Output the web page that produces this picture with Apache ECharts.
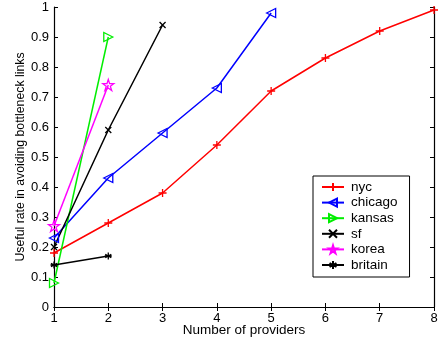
<!DOCTYPE html>
<html>
<head>
<meta charset="utf-8">
<script src="https://cdn.jsdelivr.net/npm/echarts@6/dist/echarts.min.js"></script>
<style>
html,body{margin:0;padding:0;background:#fff;}
#main{width:438px;height:341px;}
</style>
</head>
<body>
<div id="main"></div>
<script>
// data
var providers = [1, 2, 3, 4, 5, 6, 7, 8];
var nyc = [0.18, 0.28, 0.38, 0.54, 0.72, 0.83, 0.92, 0.99];
var chicago = [0.23, 0.43, 0.58, 0.73, 0.98];
var kansas = [0.08, 0.90];
var sf = [0.20, 0.59, 0.94];
var korea = [0.27, 0.74];
var britain = [0.14, 0.17];
var seriesNames = ['nyc', 'chicago', 'kansas', 'sf', 'korea', 'britain'];

var chart = echarts.init(document.getElementById('main'));

// marker shapes, matlab-like
var plusSym = 'path://M5,0 L5,10 M0,5 L10,5';
var crossSym = 'path://M0,0 L10,10 M10,0 L0,10';
var leftTri = 'path://M0,5 L10,0 L10,10 Z';
var rightTri = 'path://M10,5 L0,0 L0,10 Z';
var starSym = 'path://M5,0 L6.2,3.6 L10,3.6 L6.9,5.9 L8.1,9.5 L5,7.3 L1.9,9.5 L3.1,5.9 L0,3.6 L3.8,3.6 Z';
var astSym = 'path://M5,0 L5,10 M0.7,2.5 L9.3,7.5 M0.7,7.5 L9.3,2.5 M0,5 L10,5';

function pairs(vals){
	var out = [];
	for (var i = 0; i < vals.length; i++) out.push([providers[i], vals[i]]);
	return out;
}

function mk(name, vals, color, sym, size){
	return {
		name: name,
		type: 'line',
		data: pairs(vals),
		symbol: sym,
		symbolSize: size,
		showAllSymbol: true,
		lineStyle: { color: color, width: 1.5 },
		itemStyle: { color: 'rgba(0,0,0,0)', borderColor: color, borderWidth: 1.3 },
		emphasis: { disabled: true },
		animation: false
	};
}

var ax = { color: '#000', width: 1.2 };
var fnt = 'Liberation Sans, Arial, sans-serif';

var option = {
	backgroundColor: '#fff',
	grid: { left: 54, right: 4, top: 7, bottom: 34, outerBoundsMode: 'none', containLabel: false },
	legend: {
		data: seriesNames,
		orient: 'vertical',
		left: 313,
		top: 176,
		width: 93,
		padding: [4, 12, 5, 8],
		itemGap: 1.6,
		itemWidth: 22,
		itemHeight: 10,
		borderColor: '#000',
		borderWidth: 1,
		backgroundColor: '#fff',
		textStyle: { fontFamily: fnt, fontSize: 13.5, lineHeight: 12, color: '#000', padding: [0, 0, 0, 2] }
	},
	xAxis: [{
		type: 'value', min: 1, max: 8, interval: 1,
		name: 'Number of providers', nameLocation: 'middle', nameGap: 16, nameMoveOverlap: false,
		nameTextStyle: { fontFamily: fnt, fontSize: 13.5, color: '#000' },
		axisLine: { lineStyle: ax },
		axisTick: { inside: true, length: 4, lineStyle: { color: '#000' } },
		axisLabel: { fontFamily: fnt, fontSize: 13, color: '#000', margin: 5 },
		splitLine: { show: false }
	}, {
		type: 'value', min: 1, max: 8, interval: 1, position: 'top',
		axisLine: { lineStyle: ax },
		axisTick: { inside: true, length: 4, lineStyle: { color: '#000' } },
		axisLabel: { show: false },
		splitLine: { show: false }
	}],
	yAxis: [{
		type: 'value', min: 0, max: 1, interval: 0.1,
		name: 'Useful rate in avoiding bottleneck links', nameLocation: 'middle', nameGap: 27, nameMoveOverlap: false,
		nameTextStyle: { fontFamily: fnt, fontSize: 12.3, color: '#000' },
		axisLine: { show: true, lineStyle: ax },
		axisTick: { show: true, inside: true, length: 4, lineStyle: { color: '#000' } },
		axisLabel: { fontFamily: fnt, fontSize: 13, color: '#000', margin: 5 },
		splitLine: { show: false }
	}, {
		type: 'value', min: 0, max: 1, interval: 0.1, position: 'right',
		axisLine: { show: true, lineStyle: ax },
		axisTick: { show: true, inside: true, length: 4, lineStyle: { color: '#000' } },
		axisLabel: { show: false },
		splitLine: { show: false }
	}],
	series: [
		mk('nyc', nyc, '#ff0000', plusSym, 8),
		mk('chicago', chicago, '#0000ff', leftTri, 9),
		mk('kansas', kansas, '#00ee00', rightTri, 9),
		mk('sf', sf, '#000000', crossSym, 6),
		mk('korea', korea, '#ff00ff', starSym, 11),
		mk('britain', britain, '#000000', astSym, 7)
	]
};

chart.setOption(option);
</script>
</body>
</html>
